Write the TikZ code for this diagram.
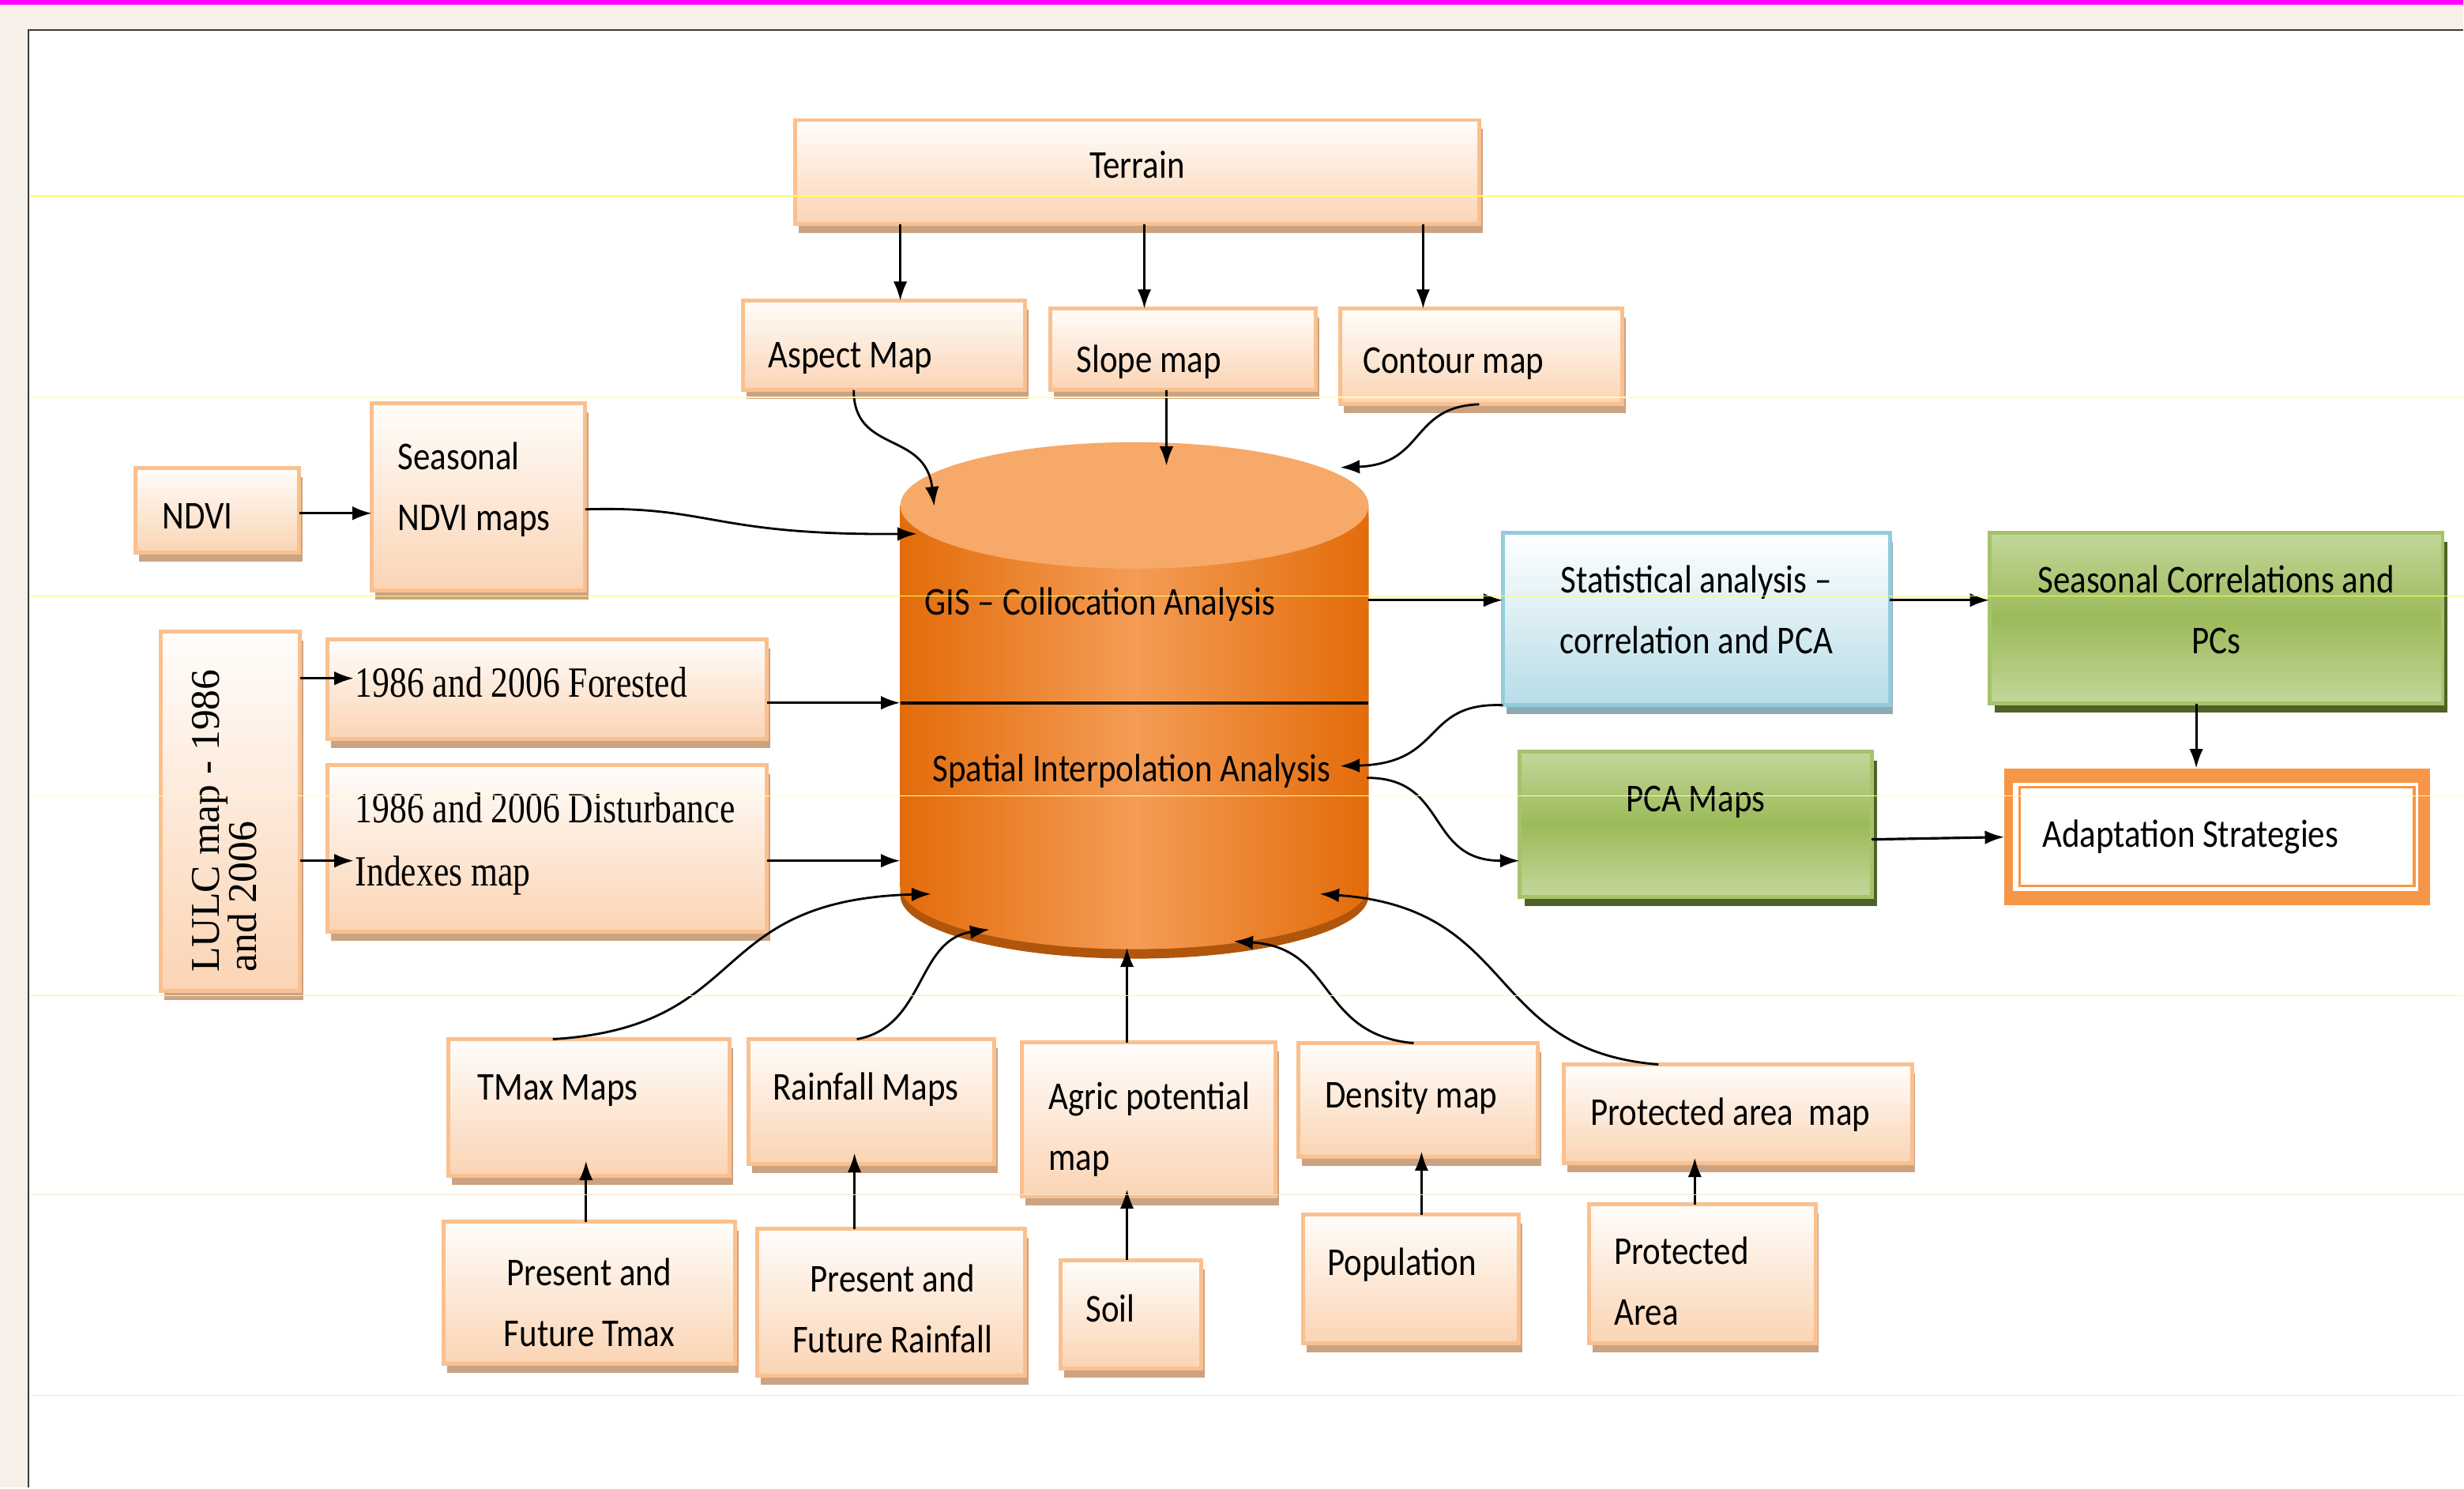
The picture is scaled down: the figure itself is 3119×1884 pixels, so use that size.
\documentclass[tikz,border=0pt]{standalone}
\usepackage{fontspec}
\setmainfont{Carlito}[FakeStretch=0.86]
\newfontfamily\serifc{Liberation Serif}[FakeStretch=0.80]
\newfontfamily\serifn{Liberation Serif}
\usetikzlibrary{arrows.meta,shadows,fit}
\definecolor{bgbeige}{HTML}{F6F0E8}
\definecolor{magbar}{HTML}{FF00FF}
\definecolor{frameline}{HTML}{3A3A3A}
\definecolor{oborder}{HTML}{FAC08F}
\definecolor{otop}{HTML}{FFFDFB}
\definecolor{obot}{HTML}{FBD4B4}
\definecolor{oshadow}{HTML}{CBA383}
\definecolor{gborder}{HTML}{A6C36A}
\definecolor{glight}{HTML}{C3D69B}
\definecolor{gmid}{HTML}{9BBB59}
\definecolor{gshadow}{HTML}{4F6228}
\definecolor{bborder}{HTML}{93CDDD}
\definecolor{bbot}{HTML}{B7DDE8}
\definecolor{bshadow}{HTML}{8FA9B1}
\definecolor{adaptor}{HTML}{F79646}
\definecolor{cyldark}{HTML}{E36C0A}
\definecolor{cylmid}{HTML}{F49C55}
\definecolor{cyltop}{HTML}{F7A969}
\definecolor{cylrim}{HTML}{B0560C}
\definecolor{rule1}{HTML}{FFFF50}
\definecolor{rule2}{HTML}{FFFFB0}
\definecolor{rule3}{HTML}{F3E6CC}
\begin{document}
\begin{tikzpicture}[x=0.01cm,y=-0.01cm,
  obox/.style={draw=oborder, line width=1.4pt, top color=otop, bottom color=obot,
    inner sep=0pt, outer sep=0pt,
    drop shadow={shadow xshift=1.2pt, shadow yshift=-3.2pt, fill=oshadow, opacity=1}},
  gbox/.style={draw=gborder, line width=1.4pt, top color=glight, bottom color=glight, middle color=gmid,
    inner sep=0pt, outer sep=0pt,
    drop shadow={shadow xshift=1.8pt, shadow yshift=-3.2pt, fill=gshadow, opacity=1}},
  bbox/.style={draw=bborder, line width=1.4pt, top color=white, bottom color=bbot,
    inner sep=0pt, outer sep=0pt,
    drop shadow={shadow xshift=1.2pt, shadow yshift=-3.2pt, fill=bshadow, opacity=1}},
  lbl/.style={inner sep=0pt, outer sep=0pt, font=\fontsize{14.2}{21.9}\selectfont, align=left},
  clbl/.style={lbl, align=center, anchor=base},
  slbl/.style={inner sep=0pt, outer sep=0pt, font=\serifc\fontsize{15.5}{22.8}\selectfont, align=left, anchor=base west},
  arr/.style={-{Latex[length=7pt,width=5pt]}, line width=0.9pt, black},
  carr/.style={-{Latex[length=7pt,width=5pt]}, line width=0.8pt, black},
]
% background and frame
\fill[bgbeige] (0,0) rectangle (3119,1884);
\fill[magbar] (0,0) rectangle (3119,6);
\fill[white] (36,38) rectangle (3119,1884);
\draw[frameline, line width=0.6pt] (36,1884) -- (36,38) -- (3119,38);

% boxes
\node[obox, fit={(1007,152) (1873,284)}] (terrain) {};
\node[obox, fit={(941,381) (1298,494)}] (aspect) {};
\node[obox, fit={(1330,391) (1666,494)}] (slope) {};
\node[obox, fit={(1697,391) (2054,512)}] (contour) {};
\node[obox, fit={(172,593) (379,700)}] (ndvi) {};
\node[obox, fit={(471,511) (741,748)}] (sndvi) {};
\node[obox, fit={(204,800) (380,1255)}] (lulc) {};
\node[obox, fit={(415,810) (971,936)}] (forest) {};
\node[obox, fit={(415,969) (971,1180)}] (disturb) {};
\node[bbox, fit={(1903,675) (2393,893)}] (stat) {};
\node[gbox, fit={(2519,675) (3093,891)}] (scorr) {};
\node[gbox, fit={(1924,952) (2370,1136)}] (pca) {};
\node[fit={(2538,973) (3077,1146)}, fill=adaptor, inner sep=0pt, outer sep=0pt] (adapt) {};
\fill[white] (2549,991) rectangle (3062,1128);
\draw[adaptor, line width=0.9pt] (2557,997) rectangle (3057,1122);
\node[obox, fit={(568,1316) (924,1489)}] (tmax) {};
\node[obox, fit={(948,1316) (1259,1474)}] (rainm) {};
\node[obox, fit={(1294,1320) (1615,1515)}] (agric) {};
\node[obox, fit={(562,1547) (931,1727)}] (ptmax) {};
\node[obox, fit={(959,1556) (1298,1742)}] (prain) {};
\node[obox, fit={(1343,1596) (1521,1733)}] (soil) {};
\node[obox, fit={(1644,1321) (1947,1465)}] (density) {};
\node[obox, fit={(1980,1348) (2421,1473)}] (protmap) {};
\node[obox, fit={(1650,1538) (1923,1701)}] (popul) {};
\node[obox, fit={(2012,1525) (2299,1701)}] (protarea) {};

% cylinder
\fill[cylrim] (1140,652) -- (1140,1134) arc[start angle=180, end angle=0, x radius=296.5, y radius=80] -- (1733,652) -- cycle;
\shade[left color=cyldark, right color=cyldark, middle color=cylmid] (1140,640) -- (1140,1122) arc[start angle=180, end angle=0, x radius=296.5, y radius=80] -- (1733,640) -- cycle;
\fill[cyltop] (1436.5,640) ellipse [x radius=296.5, y radius=80];
\node[fit={(1140,561) (1733,1202)}, inner sep=0pt, outer sep=0pt] (gis) {};

% texts (multi-line nodes: base anchor is the last line's baseline)
\node[clbl] (terrainT) at (1440,226) {Terrain};
\node[lbl, anchor=base west] (aspectT) at (973,466) {Aspect Map};
\node[lbl, anchor=base west] (slopeT) at (1363,472) {Slope map};
\node[lbl, anchor=base west] (contourT) at (1726,473) {Contour map};
\node[lbl, anchor=base west] (ndviT) at (206,670) {NDVI};
\node[lbl, anchor=base west] (sndviT) at (504,672) {Seasonal\\NDVI maps};
\node[slbl] (forestT) at (450,883) {1986 and 2006 Forested};
\node[slbl] (disturbT) at (450,1122) {1986 and 2006 Disturbance\\Indexes map};
\node[inner sep=0pt, outer sep=0pt, font=\serifn\fontsize{14.7}{18}\selectfont, rotate=90, anchor=base west] (lulcT1) at (278,1231) {LULC map - 1986};
\node[inner sep=0pt, outer sep=0pt, font=\serifn\fontsize{14.7}{18}\selectfont, rotate=90, anchor=base west] (lulcT2) at (325,1231) {and 2006};
\node[clbl] (statT) at (2148,828) {Statistical analysis --\\correlation and PCA};
\node[clbl] (scorrT) at (2806,828) {Seasonal Correlations and\\PCs};
\node[clbl] (pcaT) at (2147,1028) {PCA Maps};
\node[lbl, anchor=base west] (adaptT) at (2586,1073) {Adaptation Strategies};
\node[lbl, anchor=base west] (gisT1) at (1171,779) {GIS -- Collocation Analysis};
\node[lbl, anchor=base west] (gisT2) at (1181,990) {Spatial Interpolation Analysis};
\node[lbl, anchor=base west] (tmaxT) at (605,1393) {TMax Maps};
\node[lbl, anchor=base west] (rainmT) at (979,1393) {Rainfall Maps};
\node[lbl, anchor=base west] (agricT) at (1328,1482) {Agric potential\\map};
\node[clbl] (ptmaxT) at (746,1705) {Present and\\Future Tmax};
\node[clbl] (prainT) at (1130,1713) {Present and\\Future Rainfall};
\node[lbl, anchor=base west] (soilT) at (1375,1674) {Soil};
\node[lbl, anchor=base west] (densityT) at (1678,1403) {Density map};
\node[lbl, anchor=base west] (protmapT) at (2014,1425) {Protected area\ \ map};
\node[lbl, anchor=base west] (populT) at (1681,1615) {Population};
\node[lbl, anchor=base west] (protareaT) at (2044,1678) {Protected\\Area};

% cylinder anchor points
\coordinate (gAsp) at (1183,641);
\coordinate (gSlope) at (1477,590);
\coordinate (gCont) at (1697,592);
\coordinate (gNdvi) at (1161,676);
\coordinate (gForest) at (1140,890);
\coordinate (gDivEnd) at (1733,890);
\coordinate (gDist) at (1140,1090);
\coordinate (gStatOut) at (1733,760);
\coordinate (gSpatIn) at (1697,970);
\coordinate (gPcaOut) at (1731,985);
\coordinate (gTmax) at (1179,1132);
\coordinate (gRain) at (1253,1177);
\coordinate (gAgric) at (1427,1200);
\coordinate (gDens) at (1562,1192);
\coordinate (gProt) at (1671,1132);
\coordinate (fIn) at (448,859);
\coordinate (dIn) at (448,1090);

% connectors
\draw[arr] (terrain.south -| 1140,0) -- (aspect.north -| 1140,0);
\draw[arr] (terrain.south -| 1449,0) -- (slope.north -| 1449,0);
\draw[arr] (terrain.south -| 1802,0) -- (contour.north -| 1802,0);
\draw[carr] (aspect.south -| 1081,0) .. controls (1081,575) and (1172,545) .. (gAsp);
\draw[arr] (slope.south -| 1477,0) -- (gSlope);
\draw[carr] (contour.south -| 1873,0) .. controls (1785,515) and (1805,588) .. (gCont);
\draw[arr] (ndvi.east |- 0,650) -- (sndvi.west |- 0,650);
\draw[carr] (sndvi.east |- 0,645) .. controls (900,640) and (900,678) .. (gNdvi);
\draw[arr] (lulc.east |- fIn) -- (fIn);
\draw[arr] (lulc.east |- dIn) -- (dIn);
\draw[arr] (forest.east |- gForest) -- (gForest);
\draw[line width=1.1pt] (gForest) -- (gDivEnd);
\draw[arr] (disturb.east |- gDist) -- (gDist);
\draw[arr] (gStatOut) -- (stat.west |- gStatOut);
\draw[arr] (stat.east |- gStatOut) -- (scorr.west |- gStatOut);
\draw[arr] (scorr.south -| 2781,0) -- (adapt.north -| 2781,0);
\draw[arr] (pca.east |- 0,1063) -- (adapt.west |- 0,1060);
\draw[carr] (stat.south west) .. controls (1800,889) and (1830,967) .. (gSpatIn);
\draw[carr] (gPcaOut) .. controls (1835,985) and (1805,1090) .. (pca.west |- 0,1090);
\draw[carr] (tmax.north -| 700,0) .. controls (955,1300) and (890,1140) .. (gTmax);
\draw[carr] (rainm.north -| 1085,0) .. controls (1172,1300) and (1160,1190) .. (gRain);
\draw[arr] (agric.north -| 1427,0) -- (gAgric);
\draw[carr] (density.north -| 1790,0) .. controls (1668,1310) and (1692,1200) .. (gDens);
\draw[carr] (protmap.north -| 2100,0) .. controls (1878,1330) and (1925,1150) .. (gProt);
\draw[arr] (ptmax.north -| 742,0) -- (742,1470);
\draw[arr] (prain.north -| 1082,0) -- (1082,1460);
\draw[arr] (soil.north -| 1427,0) -- (1427,1506);
\draw[arr] (popul.north -| 1800,0) -- (1800,1458);
\draw[arr] (protarea.north -| 2146,0) -- (2146,1466);

% faint ruled lines
\draw[rule1, line width=0.5pt] (38,248) -- (3119,248);
\draw[rule2, line width=0.5pt] (38,503) -- (3119,503);
\draw[rule1, line width=0.4pt] (38,755) -- (3119,755);
\draw[rule2, line width=0.4pt] (38,1008) -- (3119,1008);
\draw[rule1, line width=0.4pt] (38,1261) -- (3119,1261);
\draw[rule3, line width=0.4pt] (38,1513) -- (3119,1513);
\draw[rule1, line width=0.4pt] (38,1767) -- (3119,1767);
\end{tikzpicture}
\end{document}
